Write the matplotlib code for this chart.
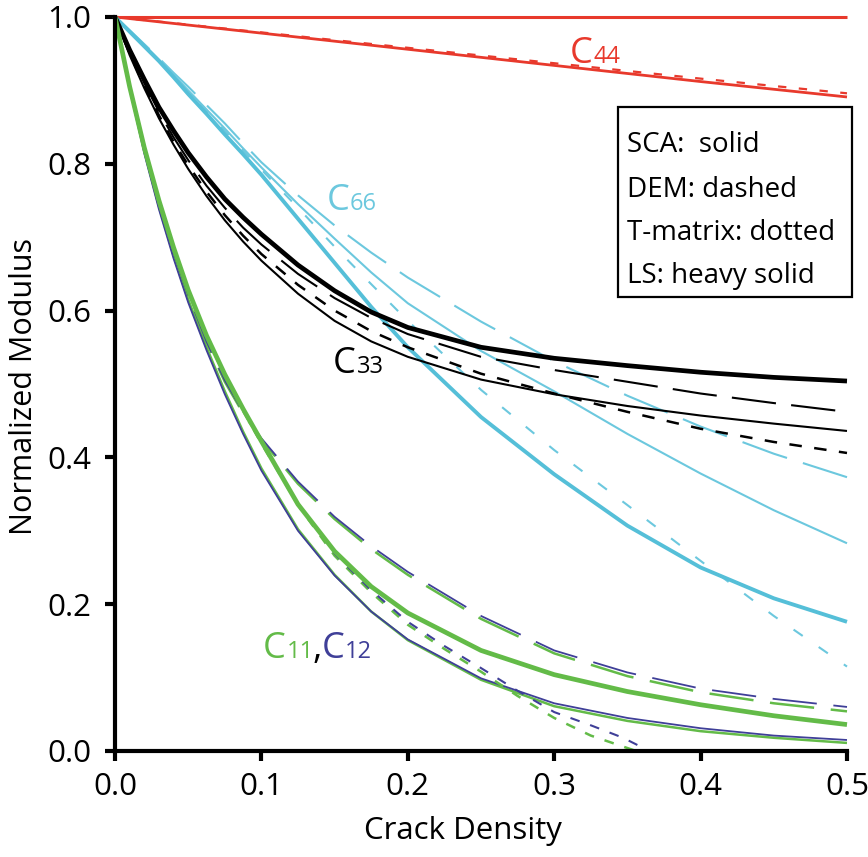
import matplotlib
matplotlib.use("Agg")
import matplotlib.pyplot as plt
from matplotlib.patches import Rectangle

plt.rcParams['font.family'] = ['Open Sans', 'DejaVu Sans']
plt.rcParams['lines.scale_dashes'] = False

# ---------------- data ----------------
crack_density = [0, 0.01, 0.02, 0.03, 0.04, 0.05, 0.0625, 0.075, 0.0875, 0.1,
                 0.125, 0.15, 0.175, 0.2, 0.25, 0.3, 0.35, 0.4, 0.45, 0.5]

# C11 (green) and C12 (blue)
c11_sca = [1.0, 0.905, 0.818, 0.742, 0.675, 0.615, 0.550, 0.490, 0.435, 0.385,
           0.302, 0.240, 0.190, 0.151, 0.097, 0.061, 0.041, 0.027, 0.018, 0.011]
c12_sca = [1.0, 0.902, 0.814, 0.738, 0.671, 0.611, 0.546, 0.486, 0.432, 0.382,
           0.300, 0.239, 0.190, 0.152, 0.099, 0.065, 0.045, 0.031, 0.021, 0.015]
c11_ls = [1.0, 0.905, 0.822, 0.750, 0.686, 0.628, 0.566, 0.513, 0.466, 0.422,
          0.336, 0.272, 0.224, 0.188, 0.137, 0.104, 0.081, 0.063, 0.048, 0.036]
c11_dem = [1.0, 0.905, 0.820, 0.746, 0.680, 0.622, 0.557, 0.503, 0.460, 0.424,
           0.364, 0.316, 0.275, 0.240, 0.180, 0.133, 0.102, 0.080, 0.065, 0.054]
c12_dem = [1.0, 0.904, 0.819, 0.745, 0.680, 0.622, 0.558, 0.505, 0.462, 0.426,
           0.367, 0.319, 0.279, 0.244, 0.184, 0.137, 0.107, 0.085, 0.071, 0.060]
c11_tm_x = [0, 0.01, 0.02, 0.03, 0.04, 0.05, 0.0625, 0.075, 0.0875, 0.1, 0.125,
            0.15, 0.175, 0.2, 0.225, 0.25, 0.275, 0.3, 0.325, 0.35, 0.356]
c11_tm = [1.0, 0.907, 0.824, 0.751, 0.687, 0.628, 0.565, 0.511, 0.463, 0.419, 0.335,
          0.266, 0.216, 0.172, 0.139, 0.108, 0.075, 0.045, 0.021, 0.004, 0.0]
c12_tm_x = [0, 0.01, 0.02, 0.03, 0.04, 0.05, 0.0625, 0.075, 0.0875, 0.1, 0.125,
            0.15, 0.175, 0.2, 0.225, 0.25, 0.275, 0.3, 0.325, 0.347, 0.365]
c12_tm = [1.0, 0.906, 0.823, 0.750, 0.686, 0.627, 0.565, 0.511, 0.464, 0.420, 0.337,
          0.269, 0.219, 0.176, 0.143, 0.113, 0.082, 0.053, 0.035, 0.018, 0.0]

# C33 (black)
c33_ls = [1.0, 0.955, 0.915, 0.877, 0.845, 0.815, 0.782, 0.752, 0.727, 0.704,
          0.662, 0.627, 0.598, 0.577, 0.550, 0.535, 0.525, 0.516, 0.509, 0.504]
c33_sca = [1.0, 0.948, 0.903, 0.862, 0.826, 0.793, 0.756, 0.723, 0.694, 0.668,
           0.623, 0.586, 0.558, 0.537, 0.506, 0.486, 0.470, 0.457, 0.446, 0.436]
c33_dem = [1.0, 0.952, 0.910, 0.871, 0.836, 0.805, 0.770, 0.740, 0.713, 0.690,
           0.650, 0.617, 0.590, 0.568, 0.537, 0.519, 0.503, 0.487, 0.474, 0.462]
c33_tm = [1.0, 0.950, 0.906, 0.866, 0.830, 0.798, 0.762, 0.730, 0.702, 0.677,
          0.635, 0.600, 0.572, 0.550, 0.514, 0.487, 0.462, 0.439, 0.421, 0.406]

# C66 (cyan)
c66_ls = [1.0, 0.980, 0.960, 0.940, 0.918, 0.895, 0.868, 0.840, 0.813, 0.785,
          0.725, 0.665, 0.605, 0.550, 0.455, 0.377, 0.307, 0.250, 0.208, 0.176]
c66_sca = [1.0, 0.981, 0.962, 0.942, 0.921, 0.900, 0.874, 0.848, 0.821, 0.795,
           0.745, 0.698, 0.652, 0.610, 0.545, 0.490, 0.432, 0.378, 0.328, 0.283]
c66_dem = [1.0, 0.982, 0.963, 0.944, 0.924, 0.905, 0.880, 0.855, 0.828, 0.802,
           0.757, 0.716, 0.679, 0.645, 0.585, 0.531, 0.484, 0.442, 0.405, 0.373]
c66_tm = [1.0, 0.981, 0.961, 0.941, 0.920, 0.898, 0.872, 0.845, 0.818, 0.792,
          0.740, 0.687, 0.636, 0.586, 0.492, 0.410, 0.335, 0.259, 0.184, 0.115]

# C44 (red)
c44_x = [0, 0.1, 0.2, 0.3, 0.4, 0.5]
c44_ls = [1.0, 1.0, 1.0, 1.0, 1.0, 1.0]
c44_sca = [1.0, 0.978, 0.956, 0.934, 0.912, 0.891]
c44_dem = [1.0, 0.979, 0.958, 0.937, 0.916, 0.896]

x_ticks = [0.0, 0.1, 0.2, 0.3, 0.4, 0.5]
y_ticks = [0.0, 0.2, 0.4, 0.6, 0.8, 1.0]
legend_lines = ["SCA:  solid", "DEM: dashed", "T-matrix: dotted", "LS: heavy solid"]

# ---------------- styles ----------------
RED = '#e8392c'
CYAN = '#6cc8de'
CYAN_H = '#55bfd8'
GREEN = '#63bb48'
BLUE = '#3f3f98'
BLACK = '#000000'

THIN = 1.5
HEAVY = 3.4

fig = plt.figure(figsize=(8.68, 8.57), dpi=100)
ax = fig.add_axes([0.1325, 0.1237, 0.8433, 0.8565])

def line(x, y, color, lw, ls='-', z=2):
    ax.plot(x, y, color=color, lw=lw, ls=ls, clip_on=False, zorder=z,
            solid_capstyle='butt', dash_capstyle='butt', solid_joinstyle='round')

# C44
line(c44_x, c44_ls, RED, 2.2)
line(c44_x, c44_sca, RED, 2.0)
line(c44_x, c44_dem, RED, 1.6, (0, (6, 9)))

# C66
line(crack_density, c66_sca, CYAN, THIN)
line(crack_density, c66_dem, CYAN, THIN, (0, (34, 12)))
line(crack_density, c66_tm, CYAN, THIN, (0, (8, 14)))
line(crack_density, c66_ls, CYAN_H, 2.8)

# C33
line(crack_density, c33_sca, BLACK, THIN)
line(crack_density, c33_dem, BLACK, THIN, (0, (32, 11)))
line(crack_density, c33_tm, BLACK, 1.8, (0, (9, 9)))
line(crack_density, c33_ls, BLACK, HEAVY)

# C11 / C12
line(crack_density, c11_sca, GREEN, THIN + 0.3)
line(crack_density, c12_sca, BLUE, THIN - 0.2)
line(crack_density, c11_dem, GREEN, THIN + 0.3, (0, (32, 12)))
line(crack_density, c12_dem, BLUE, THIN - 0.2, (0, (32, 12)))
line(c11_tm_x, c11_tm, GREEN, THIN + 0.3, (0, (7, 8)))
line(c12_tm_x, c12_tm, BLUE, THIN, (0, (7, 8)))
line(crack_density, c11_ls, GREEN, HEAVY)

# axes
ax.set_xlim(0, 0.5)
ax.set_ylim(0, 1.0)
ax.set_xticks(x_ticks)
ax.set_yticks(y_ticks)
ax.set_xticklabels([f"{v:.1f}" for v in x_ticks])
ax.set_yticklabels([f"{v:.1f}" for v in y_ticks])
for s in ['top', 'right']:
    ax.spines[s].set_visible(False)
for s in ['left', 'bottom']:
    ax.spines[s].set_linewidth(3)
ax.tick_params(axis='both', direction='out', length=7, width=3, labelsize=22.5)
ax.tick_params(axis='y', pad=10)
ax.tick_params(axis='x', pad=8)

ax.set_xlabel("Crack Density", fontsize=22.5)
ax.set_ylabel("Normalized Modulus", fontsize=22)
ax.xaxis.set_label_coords((463 - 115) / 732, -0.088)
ax.yaxis.set_label_coords(-0.104, 0.496)

# curve labels: big C with smaller subscript digits on same baseline
def clabel(x, y, parts):
    for text, dx, size, color in parts:
        ax.annotate(text, xy=(x, y), xytext=(dx, 0), textcoords='offset points',
                    fontsize=size, color=color, ha='left', va='baseline',
                    annotation_clip=False)

CS, DS = 26, 17
clabel(0.3108, 0.937, [("C", 0, CS, RED), ("44", 17, DS, RED)])
clabel(0.1448, 0.737, [("C", 0, CS, CYAN), ("66", 16, DS, CYAN)])
clabel(0.1489, 0.515, [("C", 0, CS, BLACK), ("33", 17, DS, BLACK)])
clabel(0.1011, 0.1267, [("C", 0, CS, GREEN), ("11", 17, DS, GREEN),
                        (",", 36, CS, BLACK), ("C", 42, CS, BLUE), ("12", 59, DS, BLUE)])

# legend box
ax.add_patch(Rectangle((0.687, 0.6185), 0.320, 0.2585, transform=ax.transAxes,
                       fill=True, facecolor='white', edgecolor='black', lw=1.6,
                       clip_on=False, zorder=5))
for txt, yb in zip(legend_lines, [0.816, 0.755, 0.696, 0.638]):
    ax.text(0.699, yb, txt, transform=ax.transAxes, fontsize=20, va='baseline',
            ha='left', zorder=6)

fig.savefig("out.png", dpi=100)
